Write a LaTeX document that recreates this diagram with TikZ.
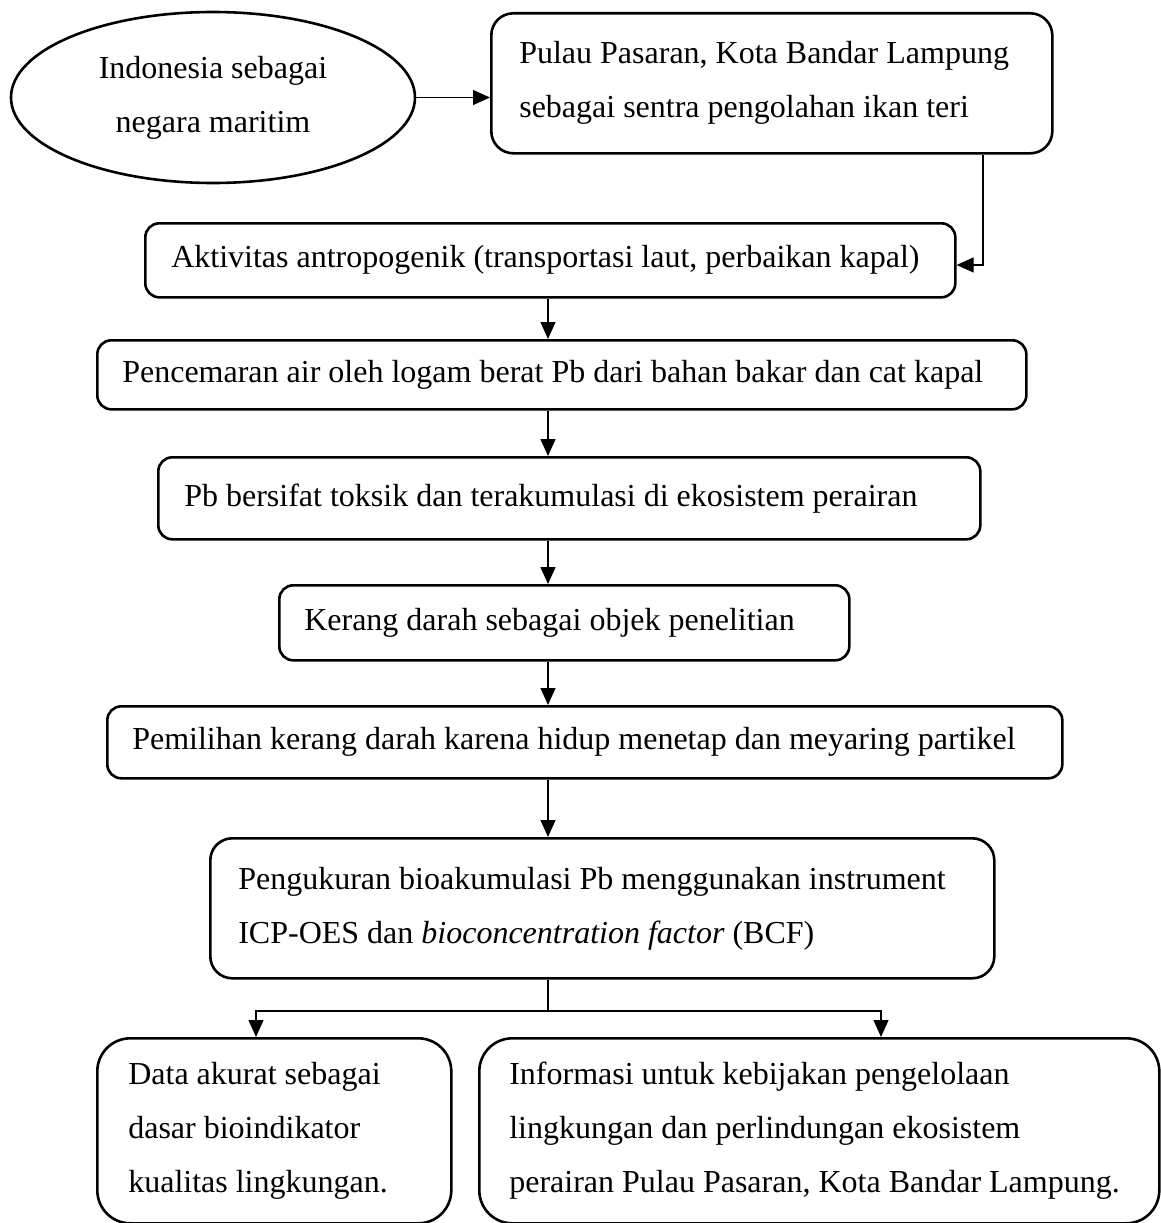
\documentclass[tikz,border=0pt]{standalone}
\usepackage{fontspec}
\setmainfont{Liberation Serif}
\usetikzlibrary{shapes.geometric,arrows.meta}

\begin{document}
\begin{tikzpicture}[x=1pt, y=-1pt, font=\fontsize{32}{54}\selectfont,
  main node/.style={draw, line width=2.6pt, rounded corners=14pt, anchor=north west, align=flush left, inner ysep=0pt},
  main arrow/.style={line width=1.2pt, -{Triangle[length=17pt, width=15pt]}}]

\useasboundingbox (0,0) rectangle (1160,1223);

\node[ellipse, draw, line width=2.6pt, minimum width=404pt, minimum height=171pt, align=center, inner sep=0pt] (1) at (213,97.5) {Indonesia sebagai\\negara maritim};
\node[main node, rounded corners=22pt, minimum width=561pt, minimum height=140pt, text width=505pt, inner xsep=28pt] (2) at (490,12) {Pulau Pasaran, Kota Bandar Lampung\\sebagai sentra pengolahan ikan teri};
\node[main node, minimum width=810pt, minimum height=74pt, text width=758pt, inner xsep=26pt] (3) at (144,222) {Aktivitas antropogenik (transportasi laut, perbaikan kapal)};
\node[main node, minimum width=929pt, minimum height=69pt, text width=879pt, inner xsep=25pt] (4) at (96,339) {Pencemaran air oleh logam berat Pb dari bahan bakar dan cat kapal};
\node[main node, minimum width=822pt, minimum height=82pt, text width=770pt, inner xsep=26pt] (5) at (157,456) {Pb bersifat toksik dan terakumulasi di ekosistem perairan};
\node[main node, minimum width=570pt, minimum height=75pt, text width=520pt, inner xsep=25pt] (6) at (278,584) {Kerang darah sebagai objek penelitian};
\node[main node, minimum width=955pt, minimum height=72pt, text width=905pt, inner xsep=25pt] (7) at (106,705) {Pemilihan kerang darah karena hidup menetap dan meyaring partikel};
\node[main node, rounded corners=22pt, minimum width=784pt, minimum height=140pt, text width=728pt, inner xsep=28pt] (8) at (209,837) {Pengukuran bioakumulasi Pb menggunakan instrument\\ICP-OES dan \textit{bioconcentration factor} (BCF)};
\node[main node, rounded corners=33pt, minimum width=354pt, minimum height=185pt, text width=292pt, inner xsep=31pt] (9) at (96,1037) {Data akurat sebagai\\dasar bioindikator\\kualitas lingkungan.};
\node[main node, rounded corners=33pt, minimum width=680pt, minimum height=185pt, text width=620pt, inner xsep=30pt] (10) at (478,1037) {Informasi untuk kebijakan pengelolaan\\lingkungan dan perlindungan ekosistem\\perairan Pulau Pasaran, Kota Bandar Lampung.};

\coordinate (c) at (548,0);
\coordinate (bend) at (983,265);
\coordinate (s) at (548,1011);
\coordinate (l) at (256,1011);
\coordinate (r) at (881,1011);

\draw[main arrow] (1.east) -- (1.east -| 2.west);
\draw[main arrow] (2.south -| bend) -- (bend) -- (bend -| 3.east);

\path[main arrow]
    (3.south -| c) edge (4.north -| c)
    (4.south -| c) edge (5.north -| c)
    (5.south -| c) edge (6.north -| c)
    (6.south -| c) edge (7.north -| c)
    (7.south -| c) edge (8.north -| c);

\draw[line width=1.2pt] (8.south -| s) -- (s);
\draw[main arrow] (s) -- (l) -- (l |- 9.north);
\draw[main arrow] (s) -- (r) -- (r |- 10.north);

\end{tikzpicture}
\end{document}
